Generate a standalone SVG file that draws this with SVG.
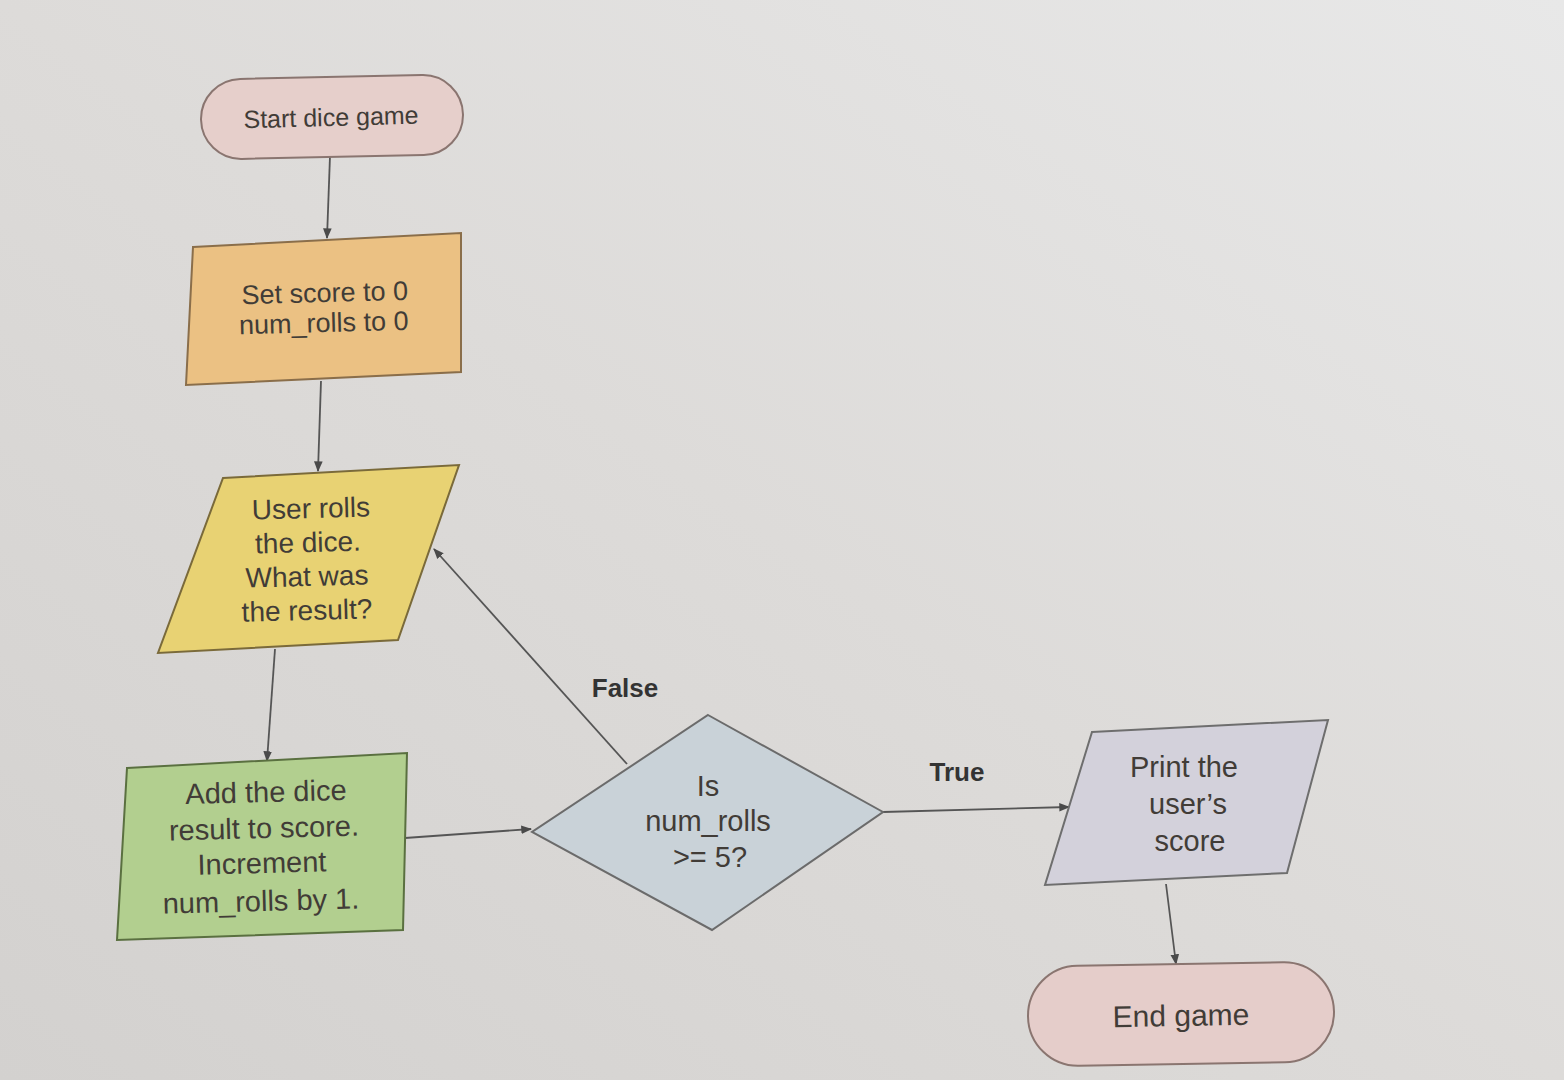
<svg xmlns="http://www.w3.org/2000/svg" width="1564" height="1080" viewBox="0 0 1564 1080">
<defs>
<linearGradient id="bg" x1="0" y1="1" x2="1" y2="0">
<stop offset="0" stop-color="#d3d1cf"/>
<stop offset="0.5" stop-color="#dddbd9"/>
<stop offset="1" stop-color="#e8e8e8"/>
</linearGradient>
<marker id="arr" viewBox="0 0 10 10" refX="9" refY="5" markerWidth="6" markerHeight="6" orient="auto-start-reverse">
<path d="M0,1 L10,5 L0,9 z" fill="#4a4a4a"/>
</marker>
<style>
.t{font-family:"Liberation Sans",Arial,sans-serif;fill:#413c37;text-anchor:middle}
.s{stroke-width:2}
.c{fill:none;stroke:#555;stroke-width:1.8}
.lbl{font-family:"Liberation Sans",Arial,sans-serif;font-size:26px;font-weight:bold;fill:#333;text-anchor:middle}
</style>
</defs>
<rect width="1564" height="1080" fill="url(#bg)"/>
<g id="connectors">
<line class="c" x1="330" y1="156" x2="327" y2="238" marker-end="url(#arr)"/>
<line class="c" x1="321" y1="381" x2="318" y2="471" marker-end="url(#arr)"/>
<line class="c" x1="275" y1="649" x2="267" y2="761" marker-end="url(#arr)"/>
<line class="c" x1="405" y1="838" x2="531" y2="829" marker-end="url(#arr)"/>
<line class="c" x1="627" y1="764" x2="434" y2="549" marker-end="url(#arr)"/>
<line class="c" x1="883" y1="812" x2="1069" y2="807" marker-end="url(#arr)"/>
<line class="c" x1="1166" y1="884" x2="1176" y2="964" marker-end="url(#arr)"/>
<text class="lbl" x="625" y="697">False</text>
<text class="lbl" x="957" y="781">True</text>
</g>
<g id="start">
<rect class="s" x="201" y="77" width="262" height="80" rx="40" fill="#e6cfcb" stroke="#8a7570" transform="rotate(-1.2 331 117)"/>
<text class="t" x="331" y="126" style="font-size:25px" transform="rotate(-1.5 331 117)">Start dice game</text>
</g>
<g id="init">
<polygon class="s" points="193,247 461,233 461,372 186,385" fill="#ebc183" stroke="#8a6e4a"/>
<text class="t" x="325" y="302" style="font-size:27px" transform="rotate(-1.5 325 300)">Set score to 0</text>
<text class="t" x="324" y="332" style="font-size:27px" transform="rotate(-1.5 324 330)">num_rolls to 0</text>
</g>
<g id="roll" style="font-size:28px">
<polygon class="s" points="223,478 459,465 398,640 158,653" fill="#e8d273" stroke="#7a6a3a"/>
<text class="t" x="311" y="518" transform="rotate(-1.5 311 510)">User rolls</text>
<text class="t" x="308" y="552" transform="rotate(-1.5 308 544)">the dice.</text>
<text class="t" x="307" y="586" transform="rotate(-1.5 307 578)">What was</text>
<text class="t" x="307" y="620" transform="rotate(-1.5 307 612)">the result?</text>
</g>
<g id="add" style="font-size:29px">
<polygon class="s" points="127,768 407,753 403,930 117,940" fill="#b2cf8f" stroke="#5a7040"/>
<text class="t" x="266" y="802" transform="rotate(-1.5 266 794)">Add the dice</text>
<text class="t" x="264" y="838" transform="rotate(-1.5 264 830)">result to score.</text>
<text class="t" x="262" y="873" transform="rotate(-1.5 262 865)">Increment</text>
<text class="t" x="261" y="911" transform="rotate(-1.5 261 903)">num_rolls by 1.</text>
</g>
<g id="decision" style="font-size:29px">
<polygon class="s" points="708,715 883,812 712,930 532,832" fill="#c9d2d8" stroke="#6b6b6b"/>
<text class="t" x="708" y="796">Is</text>
<text class="t" x="708" y="831">num_rolls</text>
<text class="t" x="710" y="867">&gt;= 5?</text>
</g>
<g id="print" style="font-size:29px">
<polygon class="s" points="1092,732 1328,720 1287,873 1045,885" fill="#d3d1db" stroke="#6e6e6e"/>
<text class="t" x="1184" y="777">Print the</text>
<text class="t" x="1188" y="814">user’s</text>
<text class="t" x="1190" y="851">score</text>
</g>
<g id="end">
<rect class="s" x="1028" y="964" width="306" height="100" rx="50" fill="#e5cdca" stroke="#8a7570" transform="rotate(-1 1181 1014)"/>
<text class="t" x="1181" y="1026" style="font-size:30px" transform="rotate(-1 1181 1016)">End game</text>
</g>
</svg>
